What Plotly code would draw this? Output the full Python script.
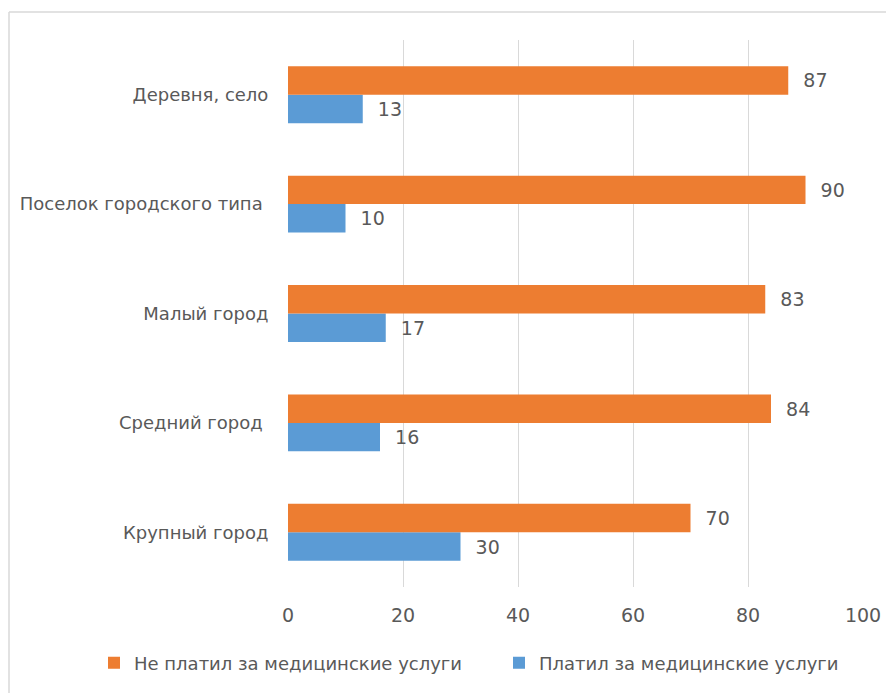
import plotly.graph_objects as go

categories = ["Крупный город", "Средний город ", "Малый город", "Поселок городского типа ", "Деревня, село"]
not_paid = [70, 84, 83, 90, 87]
paid = [30, 16, 17, 10, 13]
series_names = ["Не платил за медицинские услуги", "Платил за медицинские услуги"]
x_ticks = [0, 20, 40, 60, 80, 100]

FONT = "DejaVu Sans"
GRAY = "#595959"

fig = go.Figure()
fig.add_trace(go.Bar(
    y=categories, x=paid, orientation="h", name=series_names[1],
    marker=dict(color="#5B9BD5", line=dict(width=0)),
    text=paid, texttemplate="  %{x}", textposition="outside",
    textfont=dict(family=FONT, size=19, color=GRAY), cliponaxis=False,
    legendrank=2,
))
fig.add_trace(go.Bar(
    y=categories, x=not_paid, orientation="h", name=series_names[0],
    marker=dict(color="#ED7D31", line=dict(width=0)),
    text=not_paid, texttemplate="  %{x}", textposition="outside",
    textfont=dict(family=FONT, size=19, color=GRAY), cliponaxis=False,
    legendrank=1,
))

# page has an 8px body margin; work in figure pixel coords
OFF = 8
W, H = 894 - OFF, 693 - OFF
L, T = 288 - OFF, 40 - OFF
R = W - (863 - OFF)
B = H - (587 - OFF)
pw = W - L - R
ph = H - T - B

def px_x(x):
    return (x - OFF - L) / pw

def px_y(y):
    return (H - B - (y - OFF)) / ph

fig.update_layout(
    width=W, height=H,
    margin=dict(l=L, r=R, t=T, b=B, autoexpand=False),
    paper_bgcolor="white", plot_bgcolor="white",
    barmode="group", bargap=0.48, bargroupgap=0,
    font=dict(family=FONT, size=18, color=GRAY),
    xaxis=dict(range=[0, 100], tickvals=x_ticks, showgrid=True, gridcolor="#D9D9D9", gridwidth=1,
               zeroline=False, showline=False, ticks="outside", ticklen=11, tickcolor="rgba(0,0,0,0)",
               tickfont=dict(family=FONT, size=19, color=GRAY), fixedrange=True, automargin=False),
    yaxis=dict(categoryorder="array", categoryarray=categories, showgrid=False, zeroline=False,
               showline=False, ticks="outside", ticklen=15, tickcolor="rgba(0,0,0,0)",
               tickfont=dict(family=FONT, size=18, color=GRAY), automargin=False),
    legend=dict(orientation="h", x=px_x(94), xanchor="left", y=px_y(663), yanchor="middle",
                font=dict(family=FONT, size=18, color=GRAY), itemwidth=30,
                entrywidth=360, entrywidthmode="pixels"),
    showlegend=True,
    shapes=[
        dict(type="line", xref="paper", yref="paper", x0=px_x(9), x1=px_x(900), y0=px_y(12), y1=px_y(12),
             line=dict(color="#D9D9D9", width=1.5)),
        dict(type="line", xref="paper", yref="paper", x0=px_x(9), x1=px_x(9), y0=px_y(12), y1=px_y(700),
             line=dict(color="#D9D9D9", width=1.5)),
    ],
)

fig.write_html("out.html")
